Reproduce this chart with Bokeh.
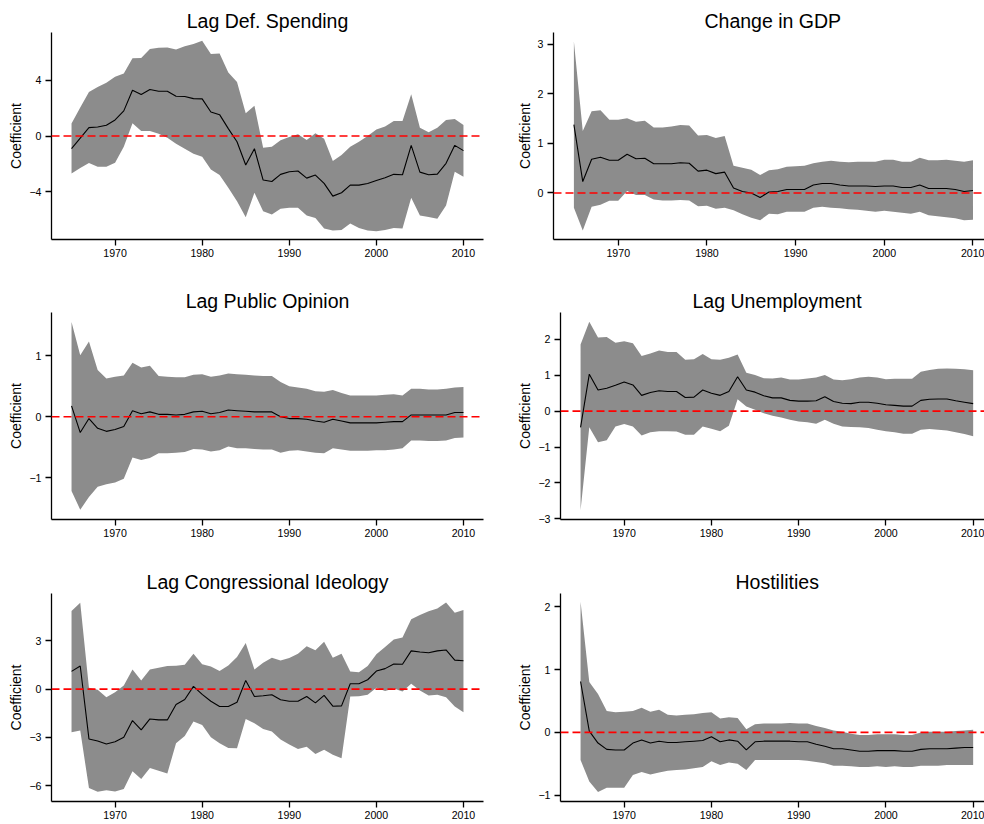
from bokeh.plotting import figure
from bokeh.layouts import column, row
from bokeh.models import Range1d, FixedTicker, Span
from bokeh.embed import file_html
from bokeh.resources import INLINE

years = list(range(1965, 2011))
x_ticks = [1970, 1980, 1990, 2000, 2010]

# ---- Lag Def. Spending
defsp_coef = [-0.91, -0.15, 0.60, 0.65, 0.77, 1.15, 1.80, 3.28, 2.97, 3.33,
              3.21, 3.21, 2.85, 2.83, 2.68, 2.66, 1.72, 1.53, 0.53, -0.41,
              -2.08, -0.91, -3.16, -3.26, -2.75, -2.56, -2.51, -3.02, -2.80, -3.40,
              -4.31, -4.07, -3.52, -3.52, -3.40, -3.19, -2.99, -2.75, -2.78, -0.67,
              -2.59, -2.78, -2.73, -1.96, -0.67, -1.05]
defsp_hi = [0.89, 2.04, 3.16, 3.52, 3.81, 4.24, 4.48, 5.58, 5.60, 6.23,
            6.32, 6.35, 6.20, 6.44, 6.59, 6.83, 5.87, 5.92, 4.55, 3.88,
            1.63, 2.16, -0.84, -0.77, -0.31, -0.07, 0.12, -0.29, 0.19, -0.19,
            -1.80, -1.37, -0.77, -0.41, 0.00, 0.46, 0.69, 1.08, 1.08, 2.99,
            0.60, 0.26, 0.60, 1.15, 1.22, 0.79]
defsp_lo = [-2.68, -2.30, -1.94, -2.20, -2.20, -1.92, -0.77, 0.91, 0.36, 0.36,
            0.17, -0.12, -0.55, -0.91, -1.27, -1.49, -2.40, -2.80, -3.71, -4.67,
            -5.82, -4.07, -5.39, -5.63, -5.22, -5.15, -5.15, -5.70, -5.87, -6.63,
            -6.78, -6.73, -6.28, -6.59, -6.78, -6.83, -6.73, -6.59, -6.63, -4.43,
            -5.70, -5.80, -5.94, -4.98, -2.56, -2.92]

# ---- Change in GDP
gdp_coef = [1.38, 0.23, 0.68, 0.72, 0.66, 0.66, 0.78, 0.69, 0.70, 0.59,
            0.59, 0.59, 0.61, 0.60, 0.44, 0.46, 0.39, 0.42, 0.10, 0.03,
            0.00, -0.09, 0.02, 0.03, 0.07, 0.07, 0.07, 0.16, 0.19, 0.19,
            0.16, 0.14, 0.14, 0.14, 0.13, 0.14, 0.14, 0.11, 0.11, 0.16,
            0.09, 0.09, 0.09, 0.07, 0.03, 0.05]
gdp_hi = [3.06, 1.25, 1.65, 1.67, 1.48, 1.48, 1.51, 1.44, 1.46, 1.32,
          1.32, 1.34, 1.37, 1.36, 1.16, 1.17, 1.11, 1.15, 0.55, 0.51,
          0.47, 0.36, 0.46, 0.48, 0.53, 0.54, 0.55, 0.60, 0.63, 0.65,
          0.63, 0.62, 0.63, 0.63, 0.63, 0.67, 0.67, 0.63, 0.63, 0.71,
          0.66, 0.66, 0.67, 0.65, 0.63, 0.66]
gdp_lo = [-0.30, -0.76, -0.28, -0.24, -0.16, -0.16, 0.04, -0.04, -0.04, -0.13,
          -0.15, -0.15, -0.14, -0.15, -0.27, -0.26, -0.32, -0.30, -0.35, -0.43,
          -0.50, -0.55, -0.42, -0.43, -0.38, -0.38, -0.38, -0.30, -0.28, -0.30,
          -0.31, -0.33, -0.34, -0.36, -0.38, -0.36, -0.38, -0.40, -0.42, -0.38,
          -0.45, -0.47, -0.49, -0.51, -0.55, -0.54]

# ---- Lag Public Opinion
opin_coef = [0.18, -0.26, -0.03, -0.19, -0.24, -0.21, -0.16, 0.10, 0.05, 0.08,
             0.04, 0.04, 0.03, 0.04, 0.08, 0.09, 0.05, 0.07, 0.11, 0.10,
             0.09, 0.08, 0.08, 0.08, 0.00, -0.03, -0.03, -0.04, -0.07, -0.09,
             -0.04, -0.07, -0.10, -0.10, -0.10, -0.10, -0.09, -0.08, -0.08, 0.03,
             0.03, 0.03, 0.03, 0.03, 0.07, 0.07]
opin_hi = [1.56, 1.01, 1.24, 0.77, 0.63, 0.66, 0.68, 0.89, 0.81, 0.84,
           0.67, 0.66, 0.65, 0.65, 0.69, 0.70, 0.66, 0.68, 0.71, 0.70,
           0.69, 0.68, 0.67, 0.67, 0.57, 0.50, 0.48, 0.46, 0.42, 0.41,
           0.44, 0.39, 0.35, 0.35, 0.35, 0.35, 0.36, 0.37, 0.35, 0.46,
           0.46, 0.45, 0.45, 0.46, 0.48, 0.49]
opin_lo = [-1.22, -1.53, -1.32, -1.15, -1.11, -1.08, -1.02, -0.67, -0.71, -0.68,
           -0.60, -0.60, -0.59, -0.58, -0.53, -0.54, -0.57, -0.55, -0.49, -0.52,
           -0.52, -0.53, -0.54, -0.54, -0.59, -0.56, -0.55, -0.57, -0.59, -0.60,
           -0.52, -0.54, -0.56, -0.56, -0.56, -0.55, -0.55, -0.54, -0.52, -0.39,
           -0.39, -0.40, -0.40, -0.39, -0.35, -0.34]

# ---- Lag Unemployment
unemp_coef = [-0.45, 1.03, 0.59, 0.64, 0.72, 0.81, 0.73, 0.44, 0.52, 0.57,
              0.55, 0.55, 0.38, 0.39, 0.59, 0.50, 0.44, 0.55, 0.96, 0.59,
              0.53, 0.43, 0.37, 0.37, 0.30, 0.28, 0.28, 0.29, 0.40, 0.27,
              0.22, 0.21, 0.25, 0.25, 0.22, 0.18, 0.16, 0.14, 0.14, 0.30,
              0.33, 0.34, 0.34, 0.29, 0.25, 0.21]
unemp_hi = [1.86, 2.49, 2.05, 2.07, 1.91, 1.95, 1.89, 1.54, 1.61, 1.69,
            1.65, 1.65, 1.43, 1.45, 1.59, 1.45, 1.43, 1.49, 1.58, 1.07,
            1.01, 0.92, 0.91, 0.94, 0.88, 0.88, 0.91, 0.94, 1.01, 0.88,
            0.86, 0.89, 0.94, 0.96, 0.94, 0.89, 0.90, 0.90, 0.90, 1.10,
            1.15, 1.18, 1.19, 1.18, 1.17, 1.14]
unemp_lo = [-2.76, -0.45, -0.87, -0.81, -0.43, -0.36, -0.43, -0.68, -0.59, -0.56,
            -0.56, -0.57, -0.66, -0.66, -0.43, -0.49, -0.56, -0.41, 0.33, 0.13,
            0.04, -0.06, -0.13, -0.18, -0.24, -0.29, -0.31, -0.35, -0.24, -0.35,
            -0.43, -0.44, -0.45, -0.47, -0.52, -0.56, -0.59, -0.63, -0.63, -0.52,
            -0.50, -0.52, -0.54, -0.59, -0.64, -0.70]

# ---- Lag Congressional Ideology
ideo_coef = [1.10, 1.43, -3.09, -3.22, -3.40, -3.26, -2.99, -1.95, -2.53, -1.85,
             -1.91, -1.91, -0.95, -0.64, 0.17, -0.33, -0.75, -1.08, -1.08, -0.81,
             0.54, -0.46, -0.41, -0.35, -0.66, -0.75, -0.75, -0.46, -0.85, -0.39,
             -1.06, -1.04, 0.33, 0.33, 0.58, 1.12, 1.27, 1.56, 1.54, 2.37,
             2.30, 2.26, 2.37, 2.43, 1.80, 1.76]
ideo_hi = [4.85, 5.35, 0.08, -0.04, -0.50, -0.19, 0.23, 1.22, 0.54, 1.22,
           1.33, 1.43, 1.45, 1.51, 2.20, 1.54, 1.41, 1.12, 1.47, 1.99,
           2.86, 1.22, 1.64, 1.95, 1.78, 1.93, 2.20, 2.66, 2.41, 2.93,
           1.95, 2.20, 1.10, 1.04, 1.43, 2.16, 2.61, 3.07, 3.20, 4.34,
           4.59, 4.83, 5.00, 5.37, 4.73, 4.90]
ideo_lo = [-2.68, -2.57, -6.14, -6.37, -6.27, -6.35, -6.20, -5.10, -5.58, -4.90,
           -5.06, -5.23, -3.36, -2.90, -2.01, -2.22, -2.99, -3.36, -3.65, -3.67,
           -1.85, -2.12, -2.47, -2.63, -3.13, -3.44, -3.71, -3.57, -4.02, -3.76,
           -4.07, -4.29, -0.46, -0.44, -0.35, 0.08, -0.12, 0.04, -0.15, 0.33,
           -0.08, -0.39, -0.35, -0.50, -1.08, -1.43]

# ---- Hostilities
host_coef = [0.81, 0.02, -0.17, -0.27, -0.28, -0.28, -0.17, -0.12, -0.17, -0.14,
             -0.16, -0.16, -0.15, -0.14, -0.13, -0.07, -0.15, -0.12, -0.14, -0.28,
             -0.15, -0.14, -0.14, -0.14, -0.14, -0.15, -0.15, -0.19, -0.22, -0.26,
             -0.26, -0.28, -0.30, -0.30, -0.29, -0.29, -0.29, -0.30, -0.30, -0.27,
             -0.26, -0.26, -0.26, -0.25, -0.24, -0.24]
host_hi = [2.08, 0.80, 0.61, 0.34, 0.32, 0.33, 0.34, 0.39, 0.33, 0.36,
           0.28, 0.27, 0.28, 0.29, 0.31, 0.32, 0.22, 0.24, 0.23, 0.05,
           0.13, 0.14, 0.14, 0.14, 0.15, 0.14, 0.14, 0.10, 0.07, 0.03,
           0.01, -0.02, -0.04, -0.04, -0.03, -0.03, -0.03, -0.04, -0.04, 0.00,
           0.01, 0.01, 0.01, 0.02, 0.03, 0.04]
host_lo = [-0.44, -0.78, -0.95, -0.88, -0.88, -0.88, -0.68, -0.63, -0.67, -0.64,
           -0.61, -0.60, -0.59, -0.57, -0.55, -0.46, -0.52, -0.48, -0.50, -0.60,
           -0.44, -0.44, -0.44, -0.44, -0.44, -0.44, -0.45, -0.47, -0.49, -0.53,
           -0.53, -0.54, -0.55, -0.55, -0.54, -0.55, -0.54, -0.55, -0.55, -0.53,
           -0.53, -0.53, -0.52, -0.52, -0.52, -0.52]

titles = ["Lag Def. Spending", "Change in GDP", "Lag Public Opinion",
          "Lag Unemployment", "Lag Congressional Ideology", "Hostilities"]
y_ticks = [[-4, 0, 4], [0, 1, 2, 3], [-1, 0, 1], [-3, -2, -1, 0, 1, 2],
           [-6, -3, 0, 3], [-1, 0, 1, 2]]
y_limits = [(-7.42, 7.42), (-0.94, 3.24), (-1.69, 1.715), (-3.02, 2.75),
            (-6.97, 5.93), (-1.10, 2.21)]
series = [(defsp_coef, defsp_hi, defsp_lo), (gdp_coef, gdp_hi, gdp_lo),
          (opin_coef, opin_hi, opin_lo), (unemp_coef, unemp_hi, unemp_lo),
          (ideo_coef, ideo_hi, ideo_lo), (host_coef, host_hi, host_lo)]

# layout (pixels)
col_w = [490, 494]
row_h = [275, 275, 274]
top_b = [32, 37, 43]
frame_h = [207, 207, 208]
left_b = [51, 63, 51, 70, 51, 70]
# right-column panels are cut off by the window edge: their titles are
# left-aligned with an offset so they sit centred over the uncut panel
title_offset = [None, 151, None, 132, None, 175]
x_lim = [(1962.7, 2012.3), (1962.7, 2011.3)]

FONT = "Liberation Sans"


def fmt(v):
    return ("\u2212" + str(abs(v))) if v < 0 else str(v)


def make_panel(i):
    r, c = divmod(i, 2)
    coef, hi, lo = series[i]
    W, H = col_w[c], row_h[r]
    lb = left_b[i]
    rb = 7 if c == 0 else 0
    bb = H - top_b[r] - frame_h[r]
    p = figure(width=W, height=H, output_backend="svg", toolbar_location=None,
               x_range=Range1d(*x_lim[c]), y_range=Range1d(*y_limits[i]),
               min_border_left=lb, min_border_right=rb,
               min_border_top=top_b[r], min_border_bottom=bb,
               title=titles[i])
    if title_offset[i] is None:
        p.title.align = "center"
    else:
        p.title.align = "left"
        p.title.offset = title_offset[i]
    p.title.text_font = FONT
    p.title.text_font_size = "19.5px"
    p.title.text_font_style = "normal"
    p.title.text_color = "black"
    p.title.standoff = 2
    p.outline_line_color = None
    p.xgrid.visible = False
    p.ygrid.visible = False
    p.background_fill_color = "white"
    p.border_fill_color = "white"

    p.varea(x=years, y1=lo, y2=hi, fill_color="#8C8C8C", fill_alpha=1.0)
    p.add_layout(Span(location=0, dimension="width", line_color="#FF0000",
                      line_dash="8 4", line_width=1.6))
    p.line(years, coef, line_color="black", line_width=1.1)

    p.xaxis.ticker = FixedTicker(ticks=x_ticks, minor_ticks=[])
    p.yaxis.ticker = FixedTicker(ticks=y_ticks[i], minor_ticks=[])
    p.yaxis.major_label_overrides = {v: fmt(v) for v in y_ticks[i]}
    p.yaxis.axis_label = "Coefficient"
    for ax in (p.xaxis[0], p.yaxis[0]):
        ax.axis_line_color = "black"
        ax.axis_line_width = 1.3
        ax.major_tick_line_color = "black"
        ax.major_tick_line_width = 1.3
        ax.major_tick_in = 0
        ax.major_tick_out = 6
        ax.minor_tick_line_color = None
        ax.major_label_text_font = FONT
        ax.major_label_text_font_size = "10.6px"
        ax.major_label_text_color = "black"
        ax.major_label_standoff = 4
    p.yaxis.axis_label_text_font = FONT
    p.yaxis.axis_label_text_font_size = "14px"
    p.yaxis.axis_label_text_font_style = "normal"
    p.yaxis.axis_label_text_color = "black"
    p.yaxis.axis_label_standoff = 2
    p.xaxis.major_label_standoff = 3
    return p


panels = [make_panel(i) for i in range(6)]
layout = column(row(panels[0], panels[1]), row(panels[2], panels[3]),
                row(panels[4], panels[5]))

open("out.html", "w").write(file_html(layout, INLINE))
